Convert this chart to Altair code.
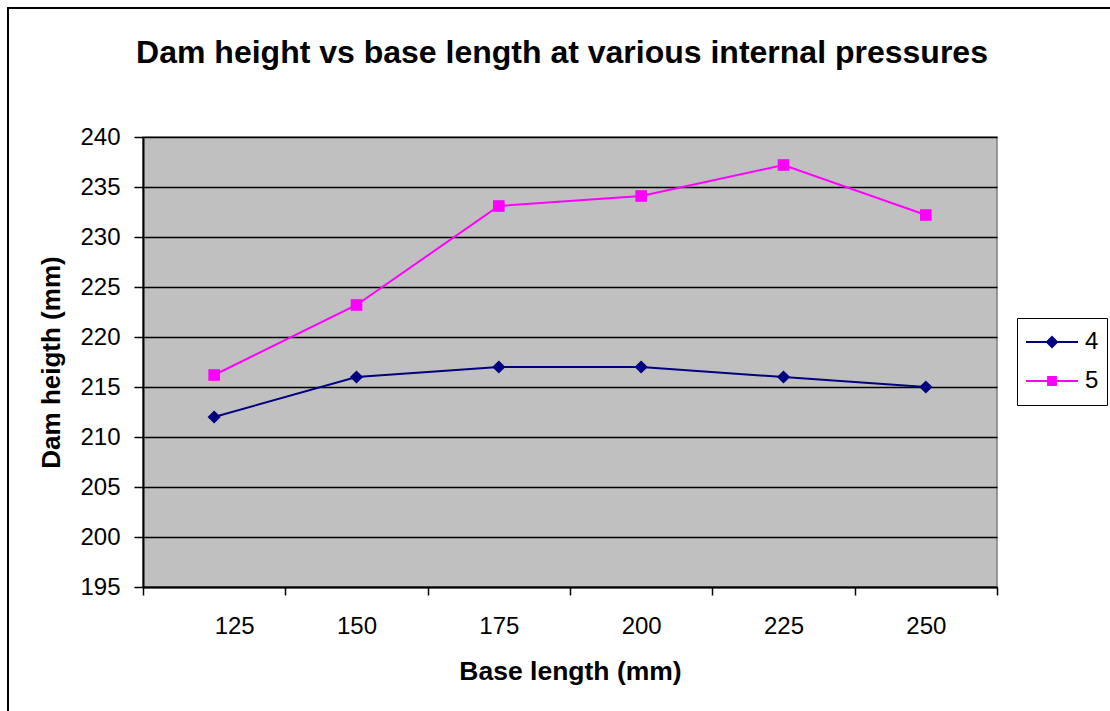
import altair as alt
import pandas as pd

# ---- data ----
base_length = [125, 150, 175, 200, 225, 250]
height_p4 = [212, 216, 217, 217, 216, 215]
height_p5 = [216.2, 223.2, 233.1, 234.1, 237.2, 232.2]
series_names = ["4", "5"]
series_colors = ["#000080", "#FF00FF"]
series_shapes = ["diamond", "square"]
y_ticks = [195, 200, 205, 210, 215, 220, 225, 230, 235, 240]
chart_title = "Dam height vs base length at various internal pressures"
x_title = "Base length (mm)"
y_title = "Dam heigth (mm)"

rows = []
for name, vals in zip(series_names, [height_p4, height_p5]):
    for b, v in zip(base_length, vals):
        rows.append({"base": b, "height": v, "series": name})
df = pd.DataFrame(rows)

FONT = "Liberation Sans"
W, H = 854, 450
half = (base_length[1] - base_length[0]) / 2
x_bounds = [b - half for b in base_length] + [base_length[-1] + half]
step_px = W / len(base_length)

legend_paths = [
    "M-2,-0.08H2V0.08H-2Z M0,-0.5L0.5,0L0,0.5L-0.5,0Z",
    "M-2,-0.08H2V0.08H-2Z M-0.38,-0.38H0.38V0.38H-0.38Z",
]

x_enc = alt.X(
    "base:Q",
    title=x_title,
    scale=alt.Scale(domain=[x_bounds[0], x_bounds[-1]], nice=False, zero=False),
    axis=alt.Axis(
        values=x_bounds,
        labelExpr=f"datum.value < {x_bounds[-1]} ? format(datum.value + {half}, 'd') : ''",
        labelOffset=step_px / 2,
        grid=False,
        tickSize=8,
        tickColor="black",
        tickWidth=1.5,
        domainColor="black",
        domainWidth=2,
        labelPadding=19,
        labelFontSize=24,
        labelFont=FONT,
        labelColor="black",
        titleFont=FONT,
        titleFontSize=26.5,
        titleFontWeight="bold",
        titleColor="black",
        titlePadding=20,
    ),
)
y_enc = alt.Y(
    "height:Q",
    title=y_title,
    scale=alt.Scale(domain=[y_ticks[0], y_ticks[-1]], nice=False, zero=False),
    axis=alt.Axis(
        values=y_ticks,
        grid=True,
        gridColor="black",
        gridWidth=1.6,
        gridOpacity=1,
        tickSize=9,
        tickColor="black",
        tickWidth=1.5,
        domainColor="black",
        domainWidth=2,
        labelPadding=14,
        labelFontSize=24,
        labelFont=FONT,
        labelColor="black",
        titleFont=FONT,
        titleFontSize=26,
        titleFontWeight="bold",
        titleColor="black",
        titlePadding=15,
    ),
)

legend_kw = dict(
    title=None,
    orient="none",
    legendX=874,
    legendY=181,
    strokeColor="black",
    fillColor="white",
    padding=8,
    symbolSize=676,
    symbolOffset=14,
    symbolOpacity=1,
    labelFont=FONT,
    labelFontSize=24,
    labelColor="black",
    labelOffset=20,
    clipHeight=32,
    rowPadding=7,
    symbolStrokeWidth=0,
)

color_enc = alt.Color(
    "series:N",
    scale=alt.Scale(domain=series_names, range=series_colors),
    legend=alt.Legend(**legend_kw),
)

frame = alt.Chart(pd.DataFrame({"k": [0]})).mark_rect(
    fill="white", fillOpacity=0, stroke="black", strokeWidth=2
).encode(
    x=alt.value(-135), x2=alt.value(W + 200), y=alt.value(-129), y2=alt.value(H + 200)
)

lines = alt.Chart(df).mark_line(strokeWidth=2).encode(
    x=x_enc, y=y_enc, color=color_enc, detail="series:N"
)

point_layers = []
for name, shp, sz in zip(series_names, series_shapes, [175, 135]):
    point_layers.append(
        alt.Chart(df)
        .transform_filter(alt.datum.series == name)
        .mark_point(filled=True, opacity=1, size=sz, shape=shp)
        .encode(x=x_enc, y=y_enc, color=color_enc)
    )

# invisible marks whose only job is to carry the legend (line + marker symbols)
legend_layer = alt.Chart(df).mark_point(filled=True, opacity=0, size=1).encode(
    x=x_enc,
    y=y_enc,
    fill=alt.Fill(
        "series:N",
        scale=alt.Scale(domain=series_names, range=series_colors),
        legend=alt.Legend(**legend_kw),
    ),
    shape=alt.Shape(
        "series:N",
        scale=alt.Scale(domain=series_names, range=legend_paths),
        legend=alt.Legend(**legend_kw),
    ),
)

chart = (
    alt.layer(frame, lines, *point_layers, legend_layer)
    .properties(
        width=W,
        height=H,
        autosize="none",
        background="white",
        padding={"left": 143, "top": 137, "right": 1110 - 143 - W, "bottom": 711 - 137 - H},
        title=alt.TitleParams(
            chart_title,
            font=FONT,
            fontSize=32,
            fontWeight="bold",
            color="black",
            anchor="middle",
            frame="group",
            baseline="alphabetic",
            offset=0,
            dy=88,
            dx=-8,
        ),
    )
    .configure_view(fill="#C0C0C0", stroke="#808080", strokeWidth=1.5)
)

chart.save("out.html", embed_options={"renderer": "svg", "actions": False})
